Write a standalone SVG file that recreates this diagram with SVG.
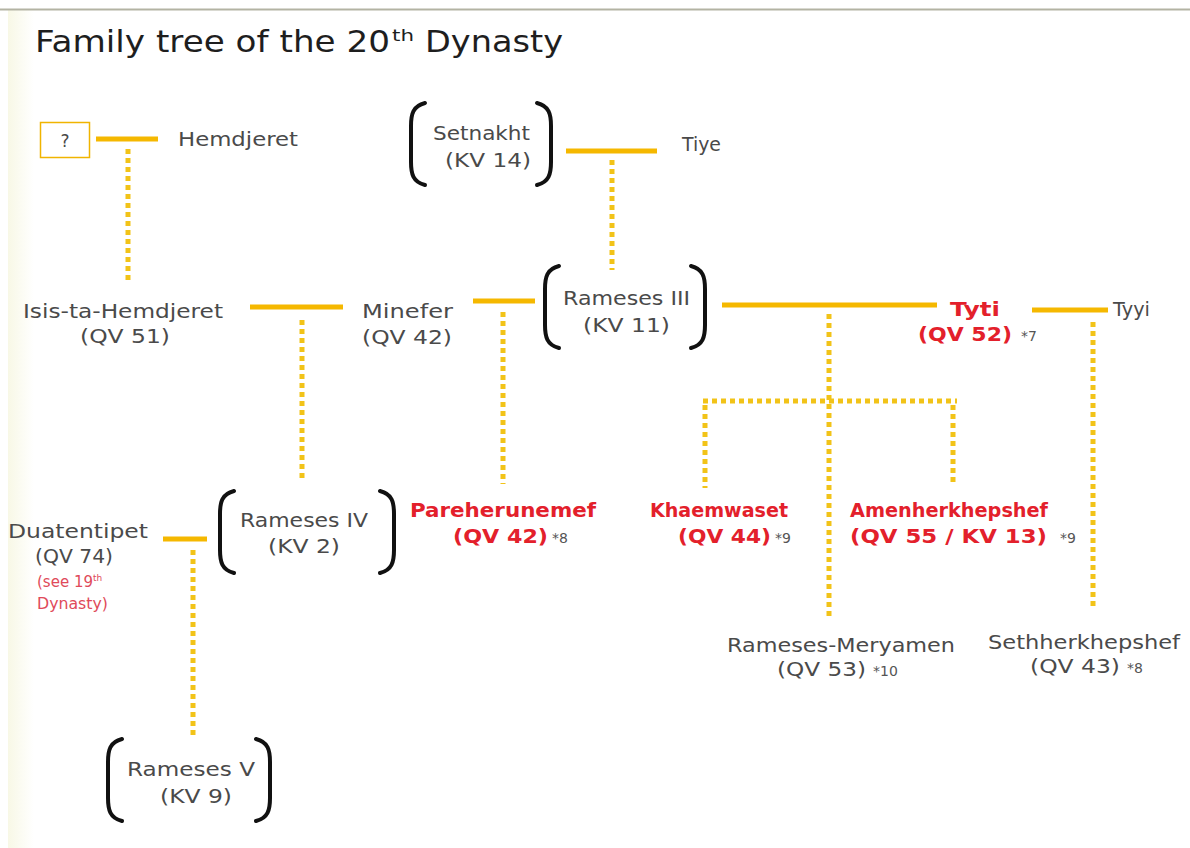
<svg xmlns="http://www.w3.org/2000/svg" width="1190" height="848" viewBox="0 0 1190 848">
<defs>
<style>
text{font-family:"DejaVu Sans","Liberation Sans",sans-serif;font-size:20px;fill:#4a4a4a}
.red{fill:#e3202b;font-weight:bold}
.note{font-size:14px;fill:#555}
.sm{font-size:15px;fill:#e04a5a}
.ttl{font-size:31px;fill:#1e1e1e}
.solid{stroke:#f5b800;stroke-width:5;fill:none}
.dot{stroke:#f2c318;stroke-width:5;stroke-dasharray:5 4;fill:none}
.br{stroke:#111;stroke-width:4;fill:none;stroke-linecap:round}
</style>
<linearGradient id="lg" x1="0" x2="1" y1="0" y2="0">
<stop offset="0" stop-color="#f8f8e6"/>
<stop offset="1" stop-color="#ffffff"/>
</linearGradient>
</defs>
<rect x="0" y="0" width="1190" height="848" fill="#ffffff"/>
<rect x="8" y="10" width="26" height="838" fill="url(#lg)"/>
<line x1="0" y1="9.5" x2="1190" y2="9.5" stroke="#b3b3a3" stroke-width="2"/>
<g id="title">
<text class="ttl" x="35" y="52" textLength="355" lengthAdjust="spacingAndGlyphs">Family tree of the 20</text>
<text class="ttl" x="392" y="41" style="font-size:16px" textLength="22" lengthAdjust="spacingAndGlyphs">th</text>
<text class="ttl" x="425" y="52" textLength="138" lengthAdjust="spacingAndGlyphs">Dynasty</text>
</g>

<g id="connectors">
<line class="solid" x1="96" y1="139" x2="158" y2="139"/>
<line class="dot" x1="128" y1="149" x2="128" y2="280"/>
<line class="solid" x1="566" y1="151" x2="657" y2="151"/>
<line class="dot" x1="612" y1="160" x2="612" y2="270"/>
<line class="solid" x1="250" y1="307" x2="343" y2="307"/>
<line class="dot" x1="302" y1="320" x2="302" y2="482"/>
<line class="solid" x1="473" y1="301" x2="535" y2="301"/>
<line class="dot" x1="503" y1="312" x2="503" y2="484"/>
<line class="solid" x1="722" y1="305" x2="937" y2="305"/>
<line class="dot" x1="829" y1="314" x2="829" y2="616"/>
<line class="dot" x1="703" y1="401" x2="957" y2="401"/>
<line class="dot" x1="705" y1="405" x2="705" y2="488"/>
<line class="dot" x1="953" y1="405" x2="953" y2="484"/>
<line class="solid" x1="1032" y1="310" x2="1108" y2="310"/>
<line class="dot" x1="1093" y1="322" x2="1093" y2="610"/>
<line class="solid" x1="163" y1="539" x2="207" y2="539"/>
<line class="dot" x1="193" y1="550" x2="193" y2="736"/>
</g>

<g id="unknown">
<rect x="40.5" y="122.5" width="49" height="35" fill="none" stroke="#f0b400" stroke-width="1.5"/>
<text x="65" y="147" text-anchor="middle" style="font-size:17px">?</text>
</g>
<g id="hemdjeret"><text x="178" y="146" textLength="120" lengthAdjust="spacingAndGlyphs">Hemdjeret</text></g>
<g id="setnakht">
<path class="br" d="M425 103 C413 106 411 114 411 126 L411 162 C411 174 413 182 425 185"/>
<path class="br" d="M537 103 C549 106 551 114 551 126 L551 162 C551 174 549 182 537 185"/>
<text x="433" y="140" textLength="97" lengthAdjust="spacingAndGlyphs">Setnakht</text>
<text x="445" y="167" textLength="86" lengthAdjust="spacingAndGlyphs">(KV 14)</text>
</g>
<g id="tiye"><text x="682" y="151" textLength="39" lengthAdjust="spacingAndGlyphs">Tiye</text></g>
<g id="isis">
<text x="23" y="318" textLength="200" lengthAdjust="spacingAndGlyphs">Isis-ta-Hemdjeret</text>
<text x="80" y="343" textLength="90" lengthAdjust="spacingAndGlyphs">(QV 51)</text>
</g>
<g id="minefer">
<text x="362" y="318" textLength="91" lengthAdjust="spacingAndGlyphs">Minefer</text>
<text x="362" y="344" textLength="90" lengthAdjust="spacingAndGlyphs">(QV 42)</text>
</g>
<g id="rameses3">
<path class="br" d="M559 266 C547 269 545 277 545 289 L545 325 C545 337 547 345 559 348"/>
<path class="br" d="M691 266 C703 269 705 277 705 289 L705 325 C705 337 703 345 691 348"/>
<text x="563" y="305" textLength="127" lengthAdjust="spacingAndGlyphs">Rameses III</text>
<text x="583" y="332" textLength="87" lengthAdjust="spacingAndGlyphs">(KV 11)</text>
</g>
<g id="tyti">
<text class="red" x="950" y="316" textLength="50" lengthAdjust="spacingAndGlyphs">Tyti</text>
<text class="red" x="918" y="341" textLength="94" lengthAdjust="spacingAndGlyphs">(QV 52)</text>
<text class="note" x="1021" y="341">*7</text>
</g>
<g id="tyyi"><text x="1113" y="316" textLength="37" lengthAdjust="spacingAndGlyphs">Tyyi</text></g>
<g id="pareherunemef">
<text class="red" x="410" y="517" textLength="186" lengthAdjust="spacingAndGlyphs">Pareherunemef</text>
<text class="red" x="453" y="543" textLength="95" lengthAdjust="spacingAndGlyphs">(QV 42)</text>
<text class="note" x="552" y="543">*8</text>
</g>
<g id="khaemwaset">
<text class="red" x="650" y="517" textLength="138" lengthAdjust="spacingAndGlyphs">Khaemwaset</text>
<text class="red" x="678" y="543" textLength="93" lengthAdjust="spacingAndGlyphs">(QV 44)</text>
<text class="note" x="775" y="543">*9</text>
</g>
<g id="amenherkhepshef">
<text class="red" x="850" y="517" textLength="198" lengthAdjust="spacingAndGlyphs">Amenherkhepshef</text>
<text class="red" x="850" y="543" textLength="197" lengthAdjust="spacingAndGlyphs">(QV 55 / KV 13)</text>
<text class="note" x="1060" y="543">*9</text>
</g>
<g id="rameses4">
<path class="br" d="M234 491 C222 494 220 502 220 514 L220 550 C220 562 222 570 234 573"/>
<path class="br" d="M380 491 C392 494 394 502 394 514 L394 550 C394 562 392 570 380 573"/>
<text x="240" y="527" textLength="128" lengthAdjust="spacingAndGlyphs">Rameses IV</text>
<text x="268" y="553" textLength="72" lengthAdjust="spacingAndGlyphs">(KV 2)</text>
</g>
<g id="duatentipet">
<text x="8" y="538" textLength="140" lengthAdjust="spacingAndGlyphs">Duatentipet</text>
<text x="35" y="563" textLength="78" lengthAdjust="spacingAndGlyphs">(QV 74)</text>
<text class="sm" x="37" y="587">(see 19<tspan dy="-6" style="font-size:9px">th</tspan></text>
<text class="sm" x="37" y="609" textLength="71" lengthAdjust="spacingAndGlyphs">Dynasty)</text>
</g>
<g id="meryamen">
<text x="727" y="652" textLength="228" lengthAdjust="spacingAndGlyphs">Rameses-Meryamen</text>
<text x="777" y="676" textLength="89" lengthAdjust="spacingAndGlyphs">(QV 53)</text>
<text class="note" x="873" y="676">*10</text>
</g>
<g id="sethherkhepshef">
<text x="988" y="649" textLength="192" lengthAdjust="spacingAndGlyphs">Sethherkhepshef</text>
<text x="1030" y="673" textLength="90" lengthAdjust="spacingAndGlyphs">(QV 43)</text>
<text class="note" x="1127" y="673">*8</text>
</g>
<g id="rameses5">
<path class="br" d="M122 739 C110 742 108 750 108 762 L108 798 C108 810 110 818 122 821"/>
<path class="br" d="M256 739 C268 742 270 750 270 762 L270 798 C270 810 268 818 256 821"/>
<text x="127" y="776" textLength="128" lengthAdjust="spacingAndGlyphs">Rameses V</text>
<text x="160" y="803" textLength="72" lengthAdjust="spacingAndGlyphs">(KV 9)</text>
</g>
</svg>
